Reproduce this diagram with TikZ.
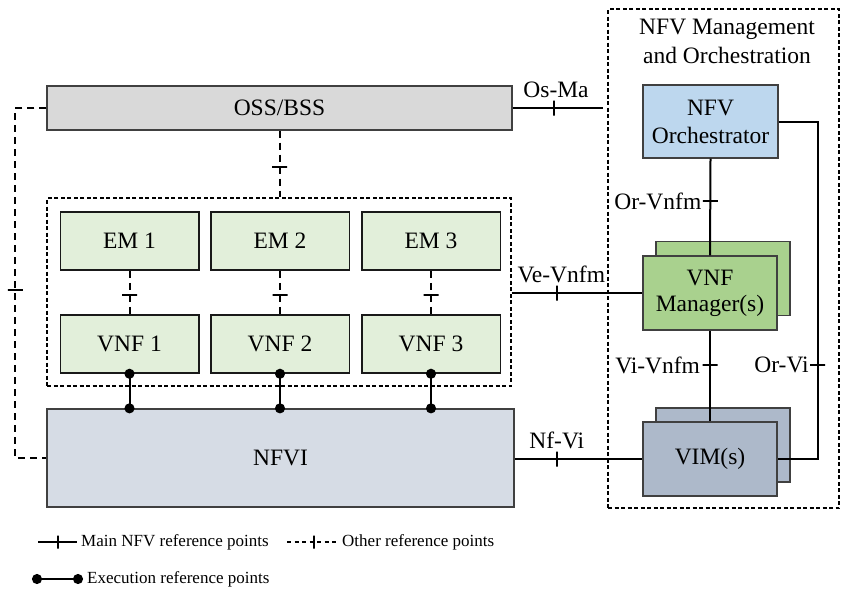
\documentclass[tikz,border=0pt]{standalone}
\usepackage{fontspec}
\setmainfont{Liberation Serif}
\usetikzlibrary{arrows.meta}
\definecolor{ossgray}{HTML}{D9D9D9}
\definecolor{emgreen}{HTML}{E2EFDA}
\definecolor{nfvigray}{HTML}{D6DCE5}
\definecolor{orchblue}{HTML}{BDD7EE}
\definecolor{vnfmgreen}{HTML}{A9D18E}
\definecolor{vimgray}{HTML}{ADB9CA}

\begin{document}
\begin{tikzpicture}[x=1pt,y=1pt,
    every node/.style={font=\fontsize{23.5}{27}\selectfont},
    box/.style={draw=black!75, line width=1.3pt, inner sep=0pt, align=center},
    vnfbox/.style={box, draw=black!90, line width=1.5pt, fill=emgreen, minimum width=138.5, minimum height=58},
    grp/.style={draw, line width=1.3pt, dash pattern=on 4pt off 2.5pt, inner sep=0pt},
    main/.style={line width=2pt},
    other/.style={line width=2pt, dash pattern=on 7pt off 5pt},
    exec/.style={line width=2pt, {Circle[length=10pt]}-{Circle[length=10pt]}, shorten <=-5pt, shorten >=-5pt},
    tickv/.style={draw, solid, line width=2pt, inner sep=0pt, minimum width=0pt, minimum height=15pt},
    tickh/.style={draw, solid, line width=2pt, inner sep=0pt, minimum width=15pt, minimum height=0pt},
    lbl/.style={inner sep=1pt},
    legend/.style={font=\fontsize{17}{20}\selectfont, inner sep=4pt}]
    \useasboundingbox (0,0) rectangle (850,-598);
    \node[box, fill=ossgray, minimum width=465, minimum height=44] (oss) at (279.5,-108) {OSS/BSS};
    \node[grp, minimum width=464, minimum height=188] (vnfgrp) at (279,-292) {};
    \foreach \i/\x in {1/129.5,2/280,3/431} {
        \node[vnfbox] (em\i) at (\x,-241) {EM \i};
        \node[vnfbox] (vnf\i) at (\x,-344) {VNF \i};
    }
    \node[box, fill=nfvigray, minimum width=467, minimum height=98] (nfvi) at (280.5,-458) {NFVI};
    \node[grp, minimum width=231, minimum height=499] (mano) at (723.5,-258.5) {};
    \node[align=center, font=\fontsize{23.5}{29}\selectfont] (manotitle) at (727,-41) {NFV Management\\and Orchestration};
    \node[box, fill=orchblue, minimum width=135, minimum height=73, font=\fontsize{23.5}{28}\selectfont] (orch) at (710.5,-121.5) {NFV\\Orchestrator};
    \node[box, fill=vnfmgreen, minimum width=134, minimum height=74] (vnfmback) at (723,-278.5) {};
    \node[box, fill=vnfmgreen, minimum width=134, minimum height=74, font=\fontsize{23.5}{26}\selectfont] (vnfm) at (710,-293) {VNF\\Manager(s)};
    \node[box, fill=vimgray, minimum width=134, minimum height=74] (vimback) at (723,-445) {};
    \node[box, fill=vimgray, minimum width=134, minimum height=74] (vim) at (710,-459) {VIM(s)};
    \coordinate (osma) at (603,-108);

    \draw[other] (oss.west) -- ++(-31,0) |- node[pos=.26,tickh]{} (nfvi.west);
    \draw[other] (oss.south) -- node[pos=.54,tickh]{} (oss.south |- vnfgrp.north);
    \foreach \i in {1,2,3} {
        \draw[other] (em\i.south) -- node[pos=.56,tickh]{} (vnf\i.north);
        \draw[exec] (vnf\i.south) -- (vnf\i.south |- nfvi.north);
    }
    \draw[main] (oss.east) -- node[pos=.46,tickv]{} node[pos=.48,lbl,above=8pt]{Os-Ma} (osma);
    \draw[main] (vnfm.west -| vnfgrp.east) -- node[pos=.35,tickv]{} node[pos=.38,lbl,above=8pt]{Ve-Vnfm} (vnfm.west);
    \draw[main] (vim.west -| nfvi.east) -- node[pos=.33,tickv]{} node[pos=.33,lbl,above=8pt]{Nf-Vi} (vim.west);
    \draw[main] (orch.south) -- node[pos=.44,tickh]{} node[pos=.44,lbl,left=7pt]{Or-Vnfm} (vnfm.north);
    \draw[main] (vnfm.south) -- node[pos=.38,tickh]{} node[pos=.38,lbl,left=8pt]{Vi-Vnfm} (vim.north);
    \draw[main] (orch.east) -- ++(39,0) |- node[pos=.36,tickh]{} node[pos=.36,lbl,left=7pt]{Or-Vi} (vim.east);

    \coordinate (lgmainstart) at (38,-542);
    \node[legend, anchor=west] (lgmain) at (77,-542) {Main NFV reference points};
    \draw[main] (lgmainstart) -- node[tickv, minimum height=13pt]{} (lgmain.west);
    \coordinate (lgotherstart) at (287,-542);
    \node[legend, anchor=west] (lgother) at (338,-542) {Other reference points};
    \draw[other, dash pattern=on 4pt off 3.5pt] (lgotherstart) -- node[pos=.52, tickv, minimum height=13pt]{} (lgother.west);
    \coordinate (lgexecstart) at (37,-579);
    \node[legend, anchor=west] (lgexec) at (83,-579) {Execution reference points};
    \draw[exec] (lgexecstart) -- ([xshift=-5pt]lgexec.west);
\end{tikzpicture}
\end{document}
